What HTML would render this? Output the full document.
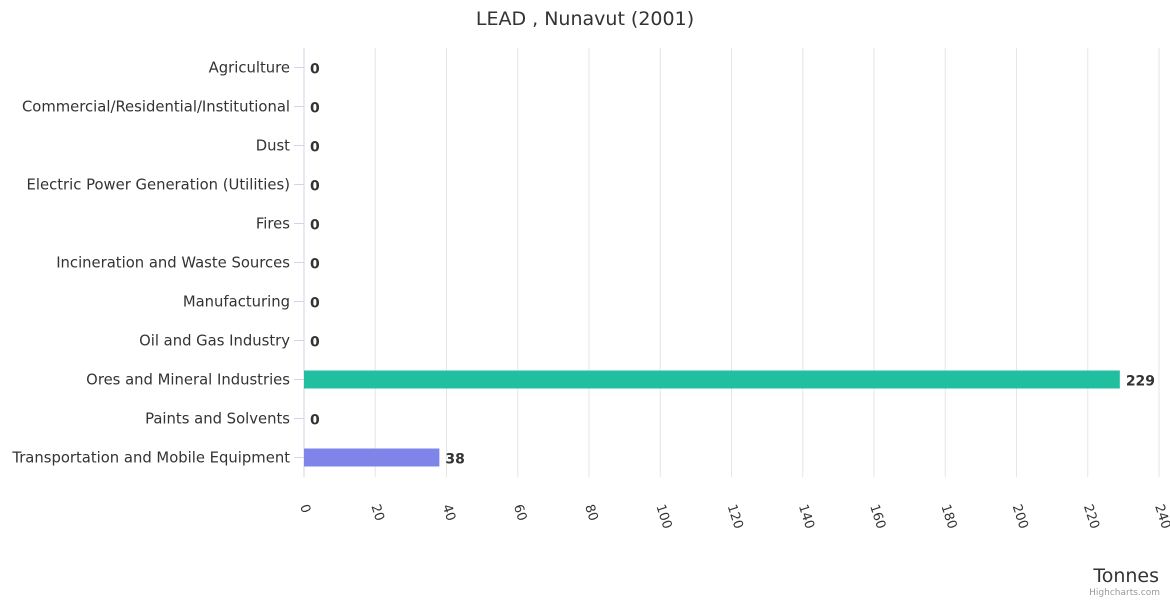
<!DOCTYPE html>
<html><head><meta charset="utf-8"><style>
body{margin:0;background:#fff;font-family:"Liberation Sans","DejaVu Sans",sans-serif;}
svg text{font-family:"DejaVu Sans","Liberation Sans",sans-serif;}
</style></head><body>
<svg id="chart" width="1170" height="600" xmlns="http://www.w3.org/2000/svg">
<rect width="1170" height="600" fill="#fff"/>
<text x="585" y="25" text-anchor="middle" font-size="19" fill="#333">LEAD , Nunavut (2001)</text>
<g id="grid"></g><g id="bars"></g><g id="labels"></g>
<text x="1159" y="582" text-anchor="end" font-size="19" fill="#333">Tonnes</text>
<text x="1160" y="595" text-anchor="end" font-size="9" fill="#999">Highcharts.com</text>
</svg>
<script>
const categories=["Agriculture","Commercial/Residential/Institutional","Dust","Electric Power Generation (Utilities)","Fires","Incineration and Waste Sources","Manufacturing","Oil and Gas Industry","Ores and Mineral Industries","Paints and Solvents","Transportation and Mobile Equipment"];
const values=[0,0,0,0,0,0,0,0,229,0,38];
const colors=["#7cb5ec","#434348","#90ed7d","#f7a35c","#8085e9","#f15c80","#e4d354","#2b908f","#20bf9f","#91e8e1","#7f84e8"];
const ticks=[0,20,40,60,80,100,120,140,160,180,200,220,240];
const X0=304,X1=1159,TOPY=48,BOTY=477,XMAX=240;
const xs=v=>X0+v/XMAX*(X1-X0);
const band=(BOTY-TOPY)/categories.length;
const ys=i=>TOPY+band*i+band/2;
const NS="http://www.w3.org/2000/svg";
function mk(tag,attrs,parent,txt){const e=document.createElementNS(NS,tag);for(const k in attrs)e.setAttribute(k,attrs[k]);if(txt!==undefined)e.textContent=txt;parent.appendChild(e);return e;}
const grid=document.getElementById('grid'),bars=document.getElementById('bars'),labels=document.getElementById('labels');
ticks.forEach(t=>{
 const l=mk('line',{x1:xs(t),x2:xs(t),y1:TOPY,y2:BOTY,stroke:t===0?'#ccd6eb':'#e6e6e6','stroke-width':1},grid);
 
 
 const tx=mk('text',{transform:`translate(${xs(t)-4},506) rotate(72)`,'font-size':13,fill:'#333'},labels,String(t));
 
 
});
categories.forEach((c,i)=>{
 const y=ys(i);
 const tk=mk('line',{x1:X0-10,x2:X0,y1:y,y2:y,stroke:'#ccd6eb'},grid);
 
 
 const lb=mk('text',{x:290,y:y+5,'text-anchor':'end','font-size':14.8,fill:'#333'},labels,c);
 
 
 const w=xs(values[i])-X0;
 if(w>0){const r=mk('rect',{x:X0,y:y-9,width:w,height:18,fill:colors[i]},bars);
  
  }
 const v=mk('text',{x:xs(values[i])+6,y:y+6,'font-size':14,'font-weight':'bold',fill:'#333'},labels,String(values[i]));
 
 
});
</script>
</body></html>
